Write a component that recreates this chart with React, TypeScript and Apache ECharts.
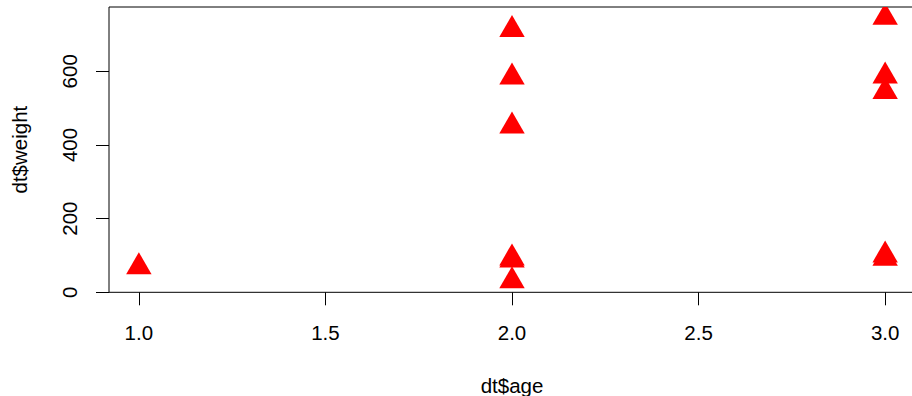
import React, { useEffect, useRef } from "react";
import * as echarts from "echarts";

// Observations: age (x) and weight (y)
const age = [1, 2, 2, 2, 2, 2, 2, 3, 3, 3, 3, 3];
const weight = [69, 713, 584, 451, 93, 87, 31, 746, 587, 545, 101, 92];

// Axis ticks and titles
const xTicks = [1, 1.5, 2, 2.5, 3];
const yTicks = [0, 200, 400, 600];
const xTitle = "dt$age";
const yTitle = "dt$weight";

// Axis extents (data range padded by 4% on each side)
const xRange = [0.92, 3.08];
const yRange = [0, 774.6];

const FONT = "'Liberation Sans', Arial, Helvetica, sans-serif";
const FONT_SIZE = 20.5;
// Filled triangle: circumradius around the centroid
const TRI_R = 14.67;

export default function App() {
  const ref = useRef<HTMLDivElement>(null);

  useEffect(() => {
    if (!ref.current) return;
    const chart = echarts.init(ref.current, undefined, { renderer: "svg" });
    const points = age.map((a, i) => [a, weight[i]]);

    chart.setOption({
      animation: false,
      backgroundColor: "#ffffff",
      textStyle: { fontFamily: FONT },
      grid: {
        left: 109,
        top: 7,
        right: -3,
        bottom: 103.7,
        outerBoundsMode: "none",
        containLabel: false,
        show: true,
        borderColor: "#000000",
        borderWidth: 1,
        backgroundColor: "transparent",
      },
      xAxis: {
        type: "value",
        min: xRange[0],
        max: xRange[1],
        name: xTitle,
        nameLocation: "middle",
        nameGap: 82.5,
        nameTextStyle: { color: "#000", fontSize: FONT_SIZE, fontFamily: FONT },
        axisLine: { show: false },
        axisTick: {
          show: true,
          length: 13,
          customValues: xTicks,
          lineStyle: { color: "#000", width: 1 },
        },
        axisLabel: {
          customValues: xTicks,
          margin: 30,
          color: "#000",
          fontSize: FONT_SIZE,
          fontFamily: FONT,
          formatter: (v: number) => v.toFixed(1),
        },
        splitLine: { show: false },
      },
      yAxis: {
        type: "value",
        min: yRange[0],
        max: yRange[1],
        name: yTitle,
        nameLocation: "middle",
        nameRotate: 90,
        nameGap: 78.75,
        nameTextStyle: { color: "#000", fontSize: FONT_SIZE, fontFamily: FONT },
        axisLine: { show: false },
        axisTick: {
          show: true,
          length: 13,
          customValues: yTicks,
          lineStyle: { color: "#000", width: 1 },
        },
        axisLabel: {
          customValues: yTicks,
          rotate: 90,
          margin: 29.5,
          color: "#000",
          fontSize: FONT_SIZE,
          fontFamily: FONT,
          formatter: (v: number) => String(v),
        },
        splitLine: { show: false },
      },
      series: [
        {
          type: "custom",
          clip: true,
          data: points,
          encode: { x: 0, y: 1 },
          renderItem: (_params: any, api: any) => {
            const [cx, cy] = api.coord([api.value(0), api.value(1)]);
            const hw = (TRI_R * Math.sqrt(3)) / 2;
            return {
              type: "polygon",
              shape: {
                points: [
                  [cx, cy - TRI_R],
                  [cx + hw, cy + TRI_R / 2],
                  [cx - hw, cy + TRI_R / 2],
                ],
              },
              style: { fill: "#ff0000", stroke: null },
            };
          },
        },
      ],
    });

    return () => chart.dispose();
  }, []);

  return (
    <div
      ref={ref}
      style={{ position: "absolute", left: 0, top: 0, width: 912, height: 396 }}
    />
  );
}
